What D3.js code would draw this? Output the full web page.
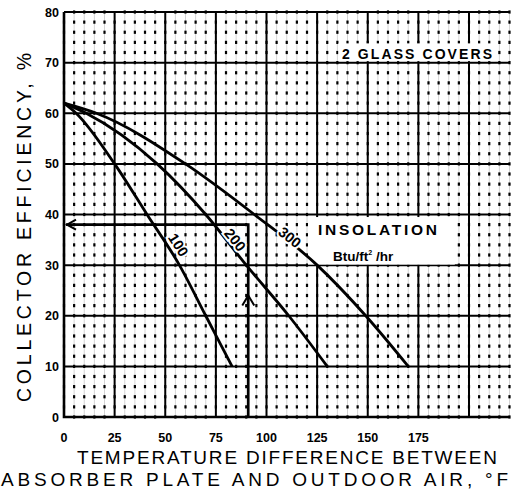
<!DOCTYPE html>
<html>
<head>
<meta charset="utf-8">
<script src="https://cdn.jsdelivr.net/npm/d3@7"></script>
<style>
  body { margin: 0; background: #fff; }
  svg text { font-family: "Liberation Sans", Arial, Helvetica, sans-serif; fill: #000; }
</style>
</head>
<body>
<svg id="chart" width="515" height="493"></svg>
<script>
// Axis ticks
const xTicks = [0, 25, 50, 75, 100, 125, 150, 175];
const yTicks = [0, 10, 20, 30, 40, 50, 60, 70, 80];

// Efficiency curves, [temperature difference °F, efficiency %], one per insolation level
const curve100 = [[0, 62], [6, 60], [25, 50], [41, 40], [57, 30], [70, 20], [83, 10]];
const curve200 = [[0, 62], [11, 60], [46, 50], [70, 40], [90, 30], [111, 20], [130, 10]];
const curve300 = [[0, 62], [16, 60], [60, 50], [94, 40], [125, 30], [149, 20], [170, 10]];
const curveLabels = ["100", "200", "300"];
const labelAt = [[56.5, 34], [84.5, 35], [111.5, 35.5]];

// Worked example read-off: temperature difference and resulting efficiency
const exampleDT = 91;
const exampleEff = 38;
const exampleArrowEff = 24;

const svg = d3.select("#chart");
const x = d3.scaleLinear().domain([0, 220]).range([64, 509.5]);
const y = d3.scaleLinear().domain([0, 80]).range([417, 12]);

const grid = svg.append("g");

// Minor grid: faint vertical rules every 5 °F and dots every 2 %
const minorX = d3.range(5, 221, 5).filter(v => v % 25 !== 0);
const minorY = d3.range(2, 80, 2).filter(v => v % 10 !== 0);
grid.selectAll("line.mv").data(minorX).join("line")
  .attr("x1", d => x(d)).attr("x2", d => x(d))
  .attr("y1", y(80)).attr("y2", y(0))
  .attr("stroke", "#000").attr("stroke-opacity", 0.22).attr("stroke-width", 0.8);
const dots = [];
minorX.concat(d3.range(0, 221, 25)).forEach(a => {
  minorY.forEach(b => dots.push([a, b]));
});
minorX.forEach(a => d3.range(0, 81, 10).forEach(b => dots.push([a, b])));
grid.selectAll("rect.dot").data(dots).join("rect")
  .attr("x", d => x(d[0]) - 1.1).attr("y", d => y(d[1]) - 1.6)
  .attr("width", 2.2).attr("height", 3.2).attr("fill", "#000");

// Major grid
grid.selectAll("line.mjv").data(d3.range(25, 201, 25)).join("line")
  .attr("x1", d => x(d)).attr("x2", d => x(d))
  .attr("y1", y(80)).attr("y2", y(0))
  .attr("stroke", "#000").attr("stroke-width", 2);
grid.selectAll("line.mjh").data(d3.range(10, 81, 10)).join("line")
  .attr("x1", x(0)).attr("x2", x(220))
  .attr("y1", d => y(d)).attr("y2", d => y(d))
  .attr("stroke", "#000").attr("stroke-width", 2);

// Frame: left and bottom
svg.append("path")
  .attr("d", `M${x(0)},${y(80)}V${y(0)}H${x(220)}`)
  .attr("fill", "none").attr("stroke", "#000").attr("stroke-width", 2.6);

// Label panels
function panel(x0, x1, y0, y1) {
  svg.append("rect")
    .attr("x", x(x0)).attr("y", y(y1))
    .attr("width", x(x1) - x(x0)).attr("height", y(y0) - y(y1))
    .attr("fill", "#fff");
}
panel(135.5, 213, 70.3, 73.8);
panel(120.5, 193, 30.1, 39.5);

svg.append("text")
  .attr("x", 342).attr("y", 58.5)
  .attr("font-size", 14).attr("font-weight", "bold")
  .attr("textLength", 150).attr("lengthAdjust", "spacing")
  .text("2 GLASS COVERS");

svg.append("text")
  .attr("x", 318).attr("y", 235)
  .attr("font-size", 15.5).attr("font-weight", "bold")
  .attr("textLength", 119).attr("lengthAdjust", "spacing")
  .text("INSOLATION");
const btu = svg.append("text")
  .attr("x", 333).attr("y", 260.5)
  .attr("font-size", 13.5).attr("font-weight", "bold");
btu.append("tspan").text("Btu/ft");
btu.append("tspan").attr("dy", -6).attr("font-size", 7).text("2");
btu.append("tspan").attr("dy", 6).text("  /hr");

// Worked example: from the temperature axis up to the curve, then across to efficiency
svg.append("path")
  .attr("d", `M${x(exampleDT)},${y(0)}V${y(exampleEff)}H${x(0) + 2}`)
  .attr("fill", "none").attr("stroke", "#000").attr("stroke-width", 2.6);
const ax = x(exampleDT), ay = y(exampleArrowEff);
svg.append("path")
  .attr("d", `M${ax - 6},${ay + 10}L${ax},${ay}L${ax + 6},${ay + 10}`)
  .attr("fill", "none").attr("stroke", "#000").attr("stroke-width", 2);
const lx = x(0) + 3, ly = y(exampleEff);
svg.append("path")
  .attr("d", `M${lx + 9},${ly - 5}L${lx},${ly}L${lx + 9},${ly + 5}`)
  .attr("fill", "none").attr("stroke", "#000").attr("stroke-width", 2);

// Curves
const line = d3.line().x(d => x(d[0])).y(d => y(d[1])).curve(d3.curveMonotoneX);
const curves = [curve100, curve200, curve300];
svg.selectAll("path.curve").data(curves).join("path")
  .attr("d", line)
  .attr("fill", "none").attr("stroke", "#000").attr("stroke-width", 2.8);

// Curve labels, aligned with the local slope of each curve
curves.forEach((pts, i) => {
  const [lxv, lyv] = labelAt[i];
  let k = 1;
  while (k < pts.length - 1 && pts[k][1] > lyv) k++;
  const a = pts[k - 1], b = pts[k];
  const ang = Math.atan2(y(b[1]) - y(a[1]), x(b[0]) - x(a[0])) * 180 / Math.PI;
  svg.append("text")
    .attr("transform", `translate(${x(lxv)},${y(lyv)}) rotate(${ang})`)
    .attr("text-anchor", "middle").attr("dy", "0.35em")
    .attr("font-size", 14.5).attr("font-weight", "bold")
    .attr("stroke", "#fff").attr("stroke-width", 4).attr("paint-order", "stroke")
    .text(curveLabels[i]);
});

// Tick labels
svg.selectAll("text.xt").data(xTicks).join("text")
  .attr("x", d => x(d)).attr("y", 442)
  .attr("text-anchor", "middle").attr("font-size", 12.5).attr("font-weight", "bold")
  .text(d => d);
svg.selectAll("text.yt").data(yTicks).join("text")
  .attr("x", 59).attr("y", d => y(d)).attr("dy", "0.36em")
  .attr("text-anchor", "end").attr("font-size", 12.5).attr("font-weight", "bold")
  .text(d => d);

// Axis titles
svg.append("text")
  .attr("x", 77).attr("y", 463.5).attr("font-size", 19)
  .attr("textLength", 420).attr("lengthAdjust", "spacing")
  .text("TEMPERATURE DIFFERENCE BETWEEN");
svg.append("text")
  .attr("x", 1).attr("y", 485.5).attr("font-size", 19)
  .attr("textLength", 507).attr("lengthAdjust", "spacing")
  .text("ABSORBER PLATE AND OUTDOOR AIR, °F");
svg.append("text")
  .attr("transform", "translate(31,402) rotate(-90)")
  .attr("font-size", 19.5)
  .attr("textLength", 349).attr("lengthAdjust", "spacing")
  .text("COLLECTOR EFFICIENCY, %");
</script>
</body>
</html>
